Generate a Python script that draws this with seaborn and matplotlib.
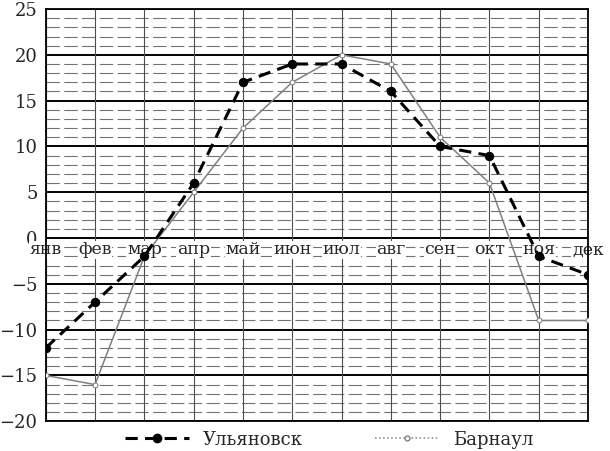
import numpy as np
import pandas as pd
import matplotlib
matplotlib.use("Agg")
import matplotlib.pyplot as plt
import seaborn as sns

# данные
months = ["янв", "фев", "мар", "апр", "май", "июн",
          "июл", "авг", "сен", "окт", "ноя", "дек"]
ulyanovsk = [-12, -7, -2, 6, 17, 19, 19, 16, 10, 9, -2, -4]
barnaul = [-15, -16, -2, 5, 12, 17, 20, 19, 11, 6, -9, -9]
y_ticks = [25, 20, 15, 10, 5, 0, -5, -10, -15, -20]

df = pd.DataFrame({
    "month": list(range(len(months))) * 2,
    "temp": ulyanovsk + barnaul,
    "city": ["Ульяновск"] * len(months) + ["Барнаул"] * len(months),
})

sns.set_style("white")
plt.rcParams["font.family"] = ["DejaVu Serif"]

fig = plt.figure(figsize=(6.1, 4.51), dpi=100)
ax = fig.add_axes([0.075, 0.066, 0.889, 0.914])

# сетка: мелкая пунктирная через 1, жирная через 5, вертикали по месяцам
for v in range(-20, 26):
    if v % 5 == 0:
        ax.axhline(v, color="black", lw=1.4, zorder=1)
    else:
        ax.axhline(v, color="0.45", lw=0.8, ls=(0, (12, 4)), zorder=1)
for i in range(len(months)):
    ax.axvline(i, color="0.3", lw=0.8, zorder=1)

sns.lineplot(data=df[df.city == "Ульяновск"], x="month", y="temp", ax=ax,
             color="black", lw=2.2, marker="o", markersize=6,
             markeredgecolor="black", zorder=4)
ax.lines[-1].set_dashes((4, 2.4))
sns.lineplot(data=df[df.city == "Барнаул"], x="month", y="temp", ax=ax,
             color="0.5", lw=1.1, marker="o", markersize=3.5,
             markerfacecolor="white", markeredgecolor="0.5", zorder=3)

ax.set_xlim(0, len(months) - 1)
ax.set_ylim(-20, 25)
ax.set_yticks(y_ticks)
ax.set_yticklabels([str(t).replace("-", "−") for t in y_ticks], fontsize=13)
ax.tick_params(axis="y", length=0, pad=6)
ax.set_xticks([])
ax.set_xlabel("")
ax.set_ylabel("")

for i, m in enumerate(months):
    ax.text(i, -1.3, m, ha="center", va="center", fontsize=12.5, zorder=2,
            bbox=dict(facecolor="white", edgecolor="none", pad=0.5))

for s in ax.spines.values():
    s.set_color("black")
    s.set_linewidth(1.3)

h1 = plt.Line2D([], [], color="black", lw=2.2, dashes=(4, 2.4), marker="o",
                markersize=6)
h2 = plt.Line2D([], [], color="0.5", lw=1.1, ls=":", marker="o",
                markersize=3.5, markerfacecolor="white")
fig.legend([h1, h2], ["Ульяновск", "Барнаул"], loc="center",
           bbox_to_anchor=(0.54, 0.025), ncol=2, frameon=False, fontsize=13,
           handlelength=3.5, columnspacing=4)

fig.savefig("out.png", dpi=100)
